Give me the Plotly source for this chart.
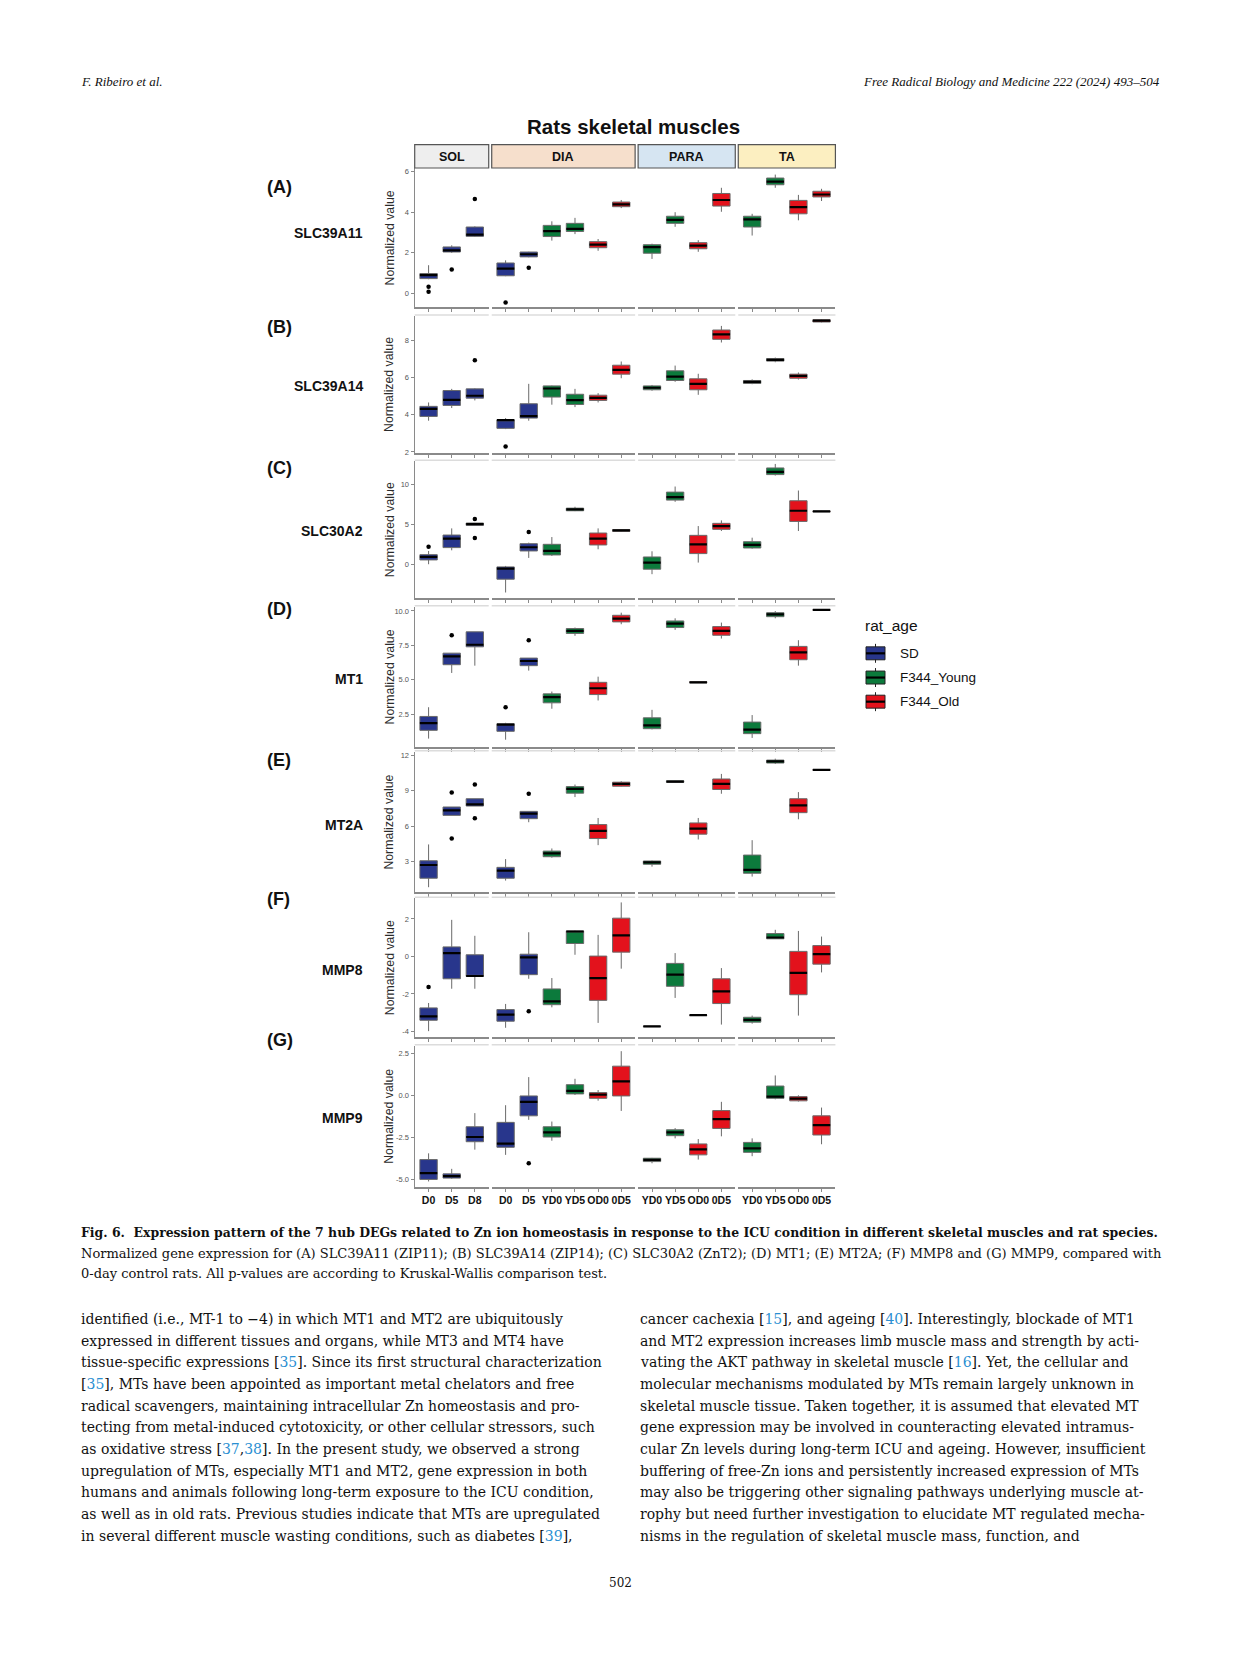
import plotly.graph_objects as go

# ---------------- data ----------------
MUSCLES = ["SOL", "DIA", "PARA", "TA"]
SOL_CATS = ["D0", "D5", "D8"]
DIA_CATS = ["D0", "D5", "YD0", "YD5", "OD0", "0D5"]
PARA_CATS = ["YD0", "YD5", "OD0", "0D5"]
TA_CATS = ["YD0", "YD5", "OD0", "0D5"]
SOL_GROUPS = ["SD", "SD", "SD"]
DIA_GROUPS = ["SD", "SD", "F344_Young", "F344_Young", "F344_Old", "F344_Old"]
PARA_GROUPS = ["F344_Young", "F344_Young", "F344_Old", "F344_Old"]
TA_GROUPS = ["F344_Young", "F344_Young", "F344_Old", "F344_Old"]
GROUP_NAMES = ["SD", "F344_Young", "F344_Old"]
GENES = ["SLC39A11", "SLC39A14", "SLC30A2", "MT1", "MT2A", "MMP8", "MMP9"]
LETTERS = ["(A)", "(B)", "(C)", "(D)", "(E)", "(F)", "(G)"]

# 17 boxes per gene: SOL D0 D5 D8 | DIA D0 D5 YD0 YD5 OD0 0D5 | PARA YD0 YD5 OD0 0D5 | TA YD0 YD5 OD0 0D5
A_LO = [0.7, 2.0, 2.78, 0.85, 1.78, 2.6, 2.92, 2.1, 4.2, 1.7, 3.28, 2.05, 4.02, 2.85, 5.2, 3.6, 4.55]
A_Q1 = [0.73, 2.04, 2.81, 0.87, 1.8, 2.8, 3.05, 2.25, 4.27, 1.98, 3.45, 2.2, 4.3, 3.27, 5.35, 3.92, 4.75]
A_MED = [0.9, 2.12, 2.9, 1.22, 1.93, 3.07, 3.18, 2.4, 4.38, 2.28, 3.62, 2.35, 4.6, 3.65, 5.5, 4.25, 4.87]
A_Q3 = [0.98, 2.29, 3.27, 1.5, 2.04, 3.35, 3.45, 2.55, 4.5, 2.4, 3.8, 2.5, 4.92, 3.8, 5.68, 4.58, 5.03]
A_HI = [1.39, 2.37, 3.3, 1.63, 2.05, 3.55, 3.72, 2.68, 4.6, 2.45, 4.0, 2.62, 5.2, 3.92, 5.85, 4.85, 5.15]
A_OUT_POS = [0, 0, 1, 2, 3, 4]
A_OUT_VAL = [0.33, 0.08, 1.18, 4.65, -0.44, 1.27]

B_LO = [3.68, 4.36, 4.77, 3.23, 3.68, 4.54, 4.41, 4.66, 5.96, 5.29, 5.77, 5.07, 7.88, 5.64, 6.82, 5.89, 8.96]
B_Q1 = [3.91, 4.5, 4.89, 3.27, 3.82, 4.95, 4.55, 4.77, 6.18, 5.34, 5.84, 5.34, 8.05, 5.68, 6.88, 5.96, 8.98]
B_MED = [4.32, 4.8, 5.02, 3.71, 3.93, 5.41, 4.79, 4.91, 6.41, 5.45, 6.05, 5.66, 8.32, 5.77, 6.95, 6.09, 9.05]
B_Q3 = [4.45, 5.3, 5.39, 3.73, 4.59, 5.55, 5.1, 5.05, 6.66, 5.55, 6.36, 5.93, 8.55, 5.84, 7.02, 6.18, 9.1]
B_HI = [4.66, 5.39, 5.42, 3.82, 5.66, 5.57, 5.39, 5.16, 6.86, 5.6, 6.64, 6.2, 8.77, 5.9, 7.07, 6.27, 9.12]
B_OUT_POS = [2, 3]
B_OUT_VAL = [6.93, 2.3]

C_LO = [0.04, 1.78, 4.9, -3.49, 0.83, 1.08, 6.68, 1.91, 4.1, -1.2, 7.84, 0.25, 4.19, 1.99, 11.12, 4.19, 6.58]
C_Q1 = [0.58, 2.12, 4.9, -1.83, 1.7, 1.2, 6.72, 2.45, 4.15, -0.58, 8.05, 1.37, 4.4, 2.07, 11.24, 5.39, 6.6]
C_MED = [0.95, 3.24, 5.06, -0.5, 2.16, 1.7, 6.89, 3.24, 4.27, 0.25, 8.42, 2.53, 4.81, 2.45, 11.58, 6.72, 6.64]
C_Q3 = [1.24, 3.69, 5.19, -0.29, 2.61, 2.53, 7.05, 3.94, 4.36, 0.95, 9.05, 3.65, 5.15, 2.86, 12.07, 7.97, 6.68]
C_HI = [1.7, 4.52, 5.19, -0.17, 2.74, 3.44, 7.22, 4.52, 4.4, 1.66, 9.75, 4.81, 5.52, 3.36, 12.57, 9.25, 6.7]
C_OUT_POS = [0, 2, 2, 4]
C_OUT_VAL = [2.24, 5.68, 3.32, 4.07]

D_LO = [0.72, 5.49, 6.02, 0.64, 5.66, 2.89, 8.19, 3.49, 9.03, 1.39, 8.62, 4.77, 7.99, 0.77, 9.46, 6.02, 10.05]
D_Q1 = [1.32, 6.09, 7.39, 1.25, 6.02, 3.32, 8.36, 3.92, 9.2, 1.44, 8.79, 4.78, 8.23, 1.08, 9.58, 6.45, 10.05]
D_MED = [1.85, 6.69, 7.54, 1.73, 6.36, 3.73, 8.55, 4.38, 9.44, 1.68, 9.08, 4.81, 8.55, 1.37, 9.75, 6.98, 10.07]
D_Q3 = [2.33, 6.93, 8.48, 1.8, 6.57, 3.97, 8.72, 4.81, 9.68, 2.23, 9.27, 4.85, 8.86, 1.92, 9.87, 7.42, 10.09]
D_HI = [3.0, 6.93, 8.48, 1.87, 6.57, 4.14, 8.79, 5.22, 9.87, 2.81, 9.46, 4.87, 9.15, 2.43, 9.99, 7.87, 10.1]
D_OUT_POS = [1, 3, 4]
D_OUT_VAL = [8.23, 3.0, 7.87]

E_LO = [0.84, 6.92, 7.71, 1.4, 6.34, 3.34, 8.47, 4.4, 9.36, 2.58, 9.7, 4.88, 8.75, 1.74, 11.27, 6.59, 10.73]
E_Q1 = [1.6, 6.92, 7.71, 1.6, 6.64, 3.42, 8.8, 4.96, 9.39, 2.78, 9.72, 5.33, 9.11, 2.02, 11.35, 7.15, 10.74]
E_MED = [2.72, 7.35, 7.85, 2.24, 7.07, 3.7, 9.17, 5.61, 9.59, 2.94, 9.78, 5.8, 9.59, 2.3, 11.49, 7.77, 10.77]
E_Q3 = [3.08, 7.63, 8.33, 2.52, 7.26, 3.9, 9.36, 6.14, 9.73, 3.06, 9.85, 6.28, 10.0, 3.56, 11.6, 8.33, 10.8]
E_HI = [4.46, 7.63, 8.33, 3.22, 7.26, 4.12, 9.53, 6.7, 9.81, 3.1, 9.87, 6.7, 10.43, 4.82, 11.72, 8.89, 10.82]
E_OUT_POS = [1, 1, 2, 2, 4]
E_OUT_VAL = [8.86, 4.96, 9.53, 6.67, 8.75]

F_LO = [-3.98, -1.72, -1.72, -3.8, -1.19, -2.71, 0.09, -3.54, -0.65, -3.75, -2.21, -3.15, -3.63, -3.58, 0.94, -3.15, -0.85]
F_Q1 = [-3.4, -1.19, -1.06, -3.45, -0.97, -2.57, 0.69, -2.34, 0.23, -3.74, -1.59, -3.14, -2.51, -3.5, 0.94, -2.04, -0.41]
F_MED = [-3.19, 0.18, -1.04, -3.1, -0.05, -2.39, 1.33, -1.15, 1.12, -3.73, -0.97, -3.13, -1.86, -3.38, 1.01, -0.88, 0.12]
F_Q3 = [-2.74, 0.51, 0.09, -2.83, 0.12, -1.73, 1.36, 0.02, 2.04, -3.72, -0.37, -3.12, -1.19, -3.24, 1.22, 0.27, 0.58]
F_HI = [-2.48, 1.95, 1.1, -2.53, 1.29, -1.15, 1.38, 1.15, 2.88, -3.71, 0.18, -3.11, -0.62, -3.15, 1.42, 1.36, 1.06]
F_OUT_POS = [0, 4]
F_OUT_VAL = [-1.63, -2.92]

G_LO = [-5.1, -4.94, -3.21, -3.52, -1.44, -2.68, 0.04, -0.3, -0.91, -4.02, -2.54, -3.8, -2.42, -3.6, -0.22, -0.35, -2.89]
G_Q1 = [-4.98, -4.9, -2.74, -3.07, -1.2, -2.46, 0.1, -0.16, -0.02, -3.92, -2.38, -3.52, -1.95, -3.37, -0.16, -0.31, -2.34]
G_MED = [-4.61, -4.78, -2.46, -2.85, -0.37, -2.19, 0.28, 0.06, 0.85, -3.82, -2.19, -3.19, -1.4, -3.13, -0.06, -0.18, -1.75]
G_Q3 = [-3.8, -4.65, -1.85, -1.59, -0.02, -1.85, 0.65, 0.18, 1.75, -3.72, -2.03, -2.87, -0.89, -2.78, 0.57, -0.06, -1.2]
G_HI = [-3.43, -4.35, -1.04, -0.57, 1.1, -1.54, 1.0, 0.33, 2.64, -3.7, -1.93, -2.58, -0.37, -2.54, 1.2, 0.02, -0.71]
G_OUT_POS = [4]
G_OUT_VAL = [-4.02]

Y_TICKS_A = [0, 2, 4, 6]
Y_TICKS_B = [2, 4, 6, 8]
Y_TICKS_C = [0, 5, 10]
Y_TICKS_D = [2.5, 5.0, 7.5, 10.0]
Y_TICKS_E = [3, 6, 9, 12]
Y_TICKS_F = [-4, -2, 0, 2]
Y_TICKS_G = [-5.0, -2.5, 0.0, 2.5]

# ---------------- styling / layout constants ----------------
W, H = 1241, 1654
GROUP_COLORS = {"SD": "#28368C", "F344_Young": "#0C7A3C", "F344_Old": "#E3121C"}
STRIP_COLORS = ["#EEEEEE", "#F6DFCC", "#D6E5F2", "#FCEFC1"]
AXIS_COLOR = "#8a8a8a"
BOX_LINE = "#6a6a6a"
SANS = "Liberation Sans, Arial, sans-serif"
SERIF = "DejaVu Serif, serif"
CITE = "#2a8fd2"

FACET_LEFT = 414.7
UNIT = 23.13
FACET_GAP = 3.0
ROW_TOP = [168.0, 316.0, 461.7, 607.6, 753.1, 900.0, 1047.8]
ROW_BOT = [307.2, 453.3, 599.0, 748.4, 894.1, 1039.3, 1189.6]
Y_RANGES = [[-0.68, 6.15], [1.95, 9.3], [-4.2, 12.9], [0.1, 10.3], [0.4, 12.3], [-4.3, 3.1], [-5.43, 2.97]]
Y_FMT = ["{:g}", "{:g}", "{:g}", "{:.1f}", "{:g}", "{:g}", "{:.1f}"]
LETTER_Y = [186.8, 327.0, 468.5, 610.0, 761.0, 901.0, 1042.6]
GENE_Y = [233.0, 386.0, 532.0, 679.6, 826.0, 972.0, 1120.0]


def fx(x):
    return x / W


def fy(y):
    return 1 - y / H


def note(text, x, y, size, family=SANS, xanchor="left", color="#111", angle=0):
    return dict(text=text, x=fx(x), y=fy(y), xref="paper", yref="paper", xanchor=xanchor,
                yanchor="middle", showarrow=False, textangle=angle,
                font=dict(family=family, size=size, color=color))


FACET_CATS = [SOL_CATS, DIA_CATS, PARA_CATS, TA_CATS]
FACET_GROUPS = [SOL_GROUPS, DIA_GROUPS, PARA_GROUPS, TA_GROUPS]
GENE_DATA = [
    (A_LO, A_Q1, A_MED, A_Q3, A_HI, A_OUT_POS, A_OUT_VAL, Y_TICKS_A),
    (B_LO, B_Q1, B_MED, B_Q3, B_HI, B_OUT_POS, B_OUT_VAL, Y_TICKS_B),
    (C_LO, C_Q1, C_MED, C_Q3, C_HI, C_OUT_POS, C_OUT_VAL, Y_TICKS_C),
    (D_LO, D_Q1, D_MED, D_Q3, D_HI, D_OUT_POS, D_OUT_VAL, Y_TICKS_D),
    (E_LO, E_Q1, E_MED, E_Q3, E_HI, E_OUT_POS, E_OUT_VAL, Y_TICKS_E),
    (F_LO, F_Q1, F_MED, F_Q3, F_HI, F_OUT_POS, F_OUT_VAL, Y_TICKS_F),
    (G_LO, G_Q1, G_MED, G_Q3, G_HI, G_OUT_POS, G_OUT_VAL, Y_TICKS_G),
]

# facet horizontal extents
facet_dom = []
start = FACET_LEFT
for cats in FACET_CATS:
    w = (len(cats) + 0.2) * UNIT
    facet_dom.append((start, start + w))
    start += w + FACET_GAP

fig = go.Figure()
layout = {}
shapes = []
annotations = []

for r, (lo, q1, med, q3, hi, opos, oval, yt) in enumerate(GENE_DATA):
    offset = 0
    for c, cats in enumerate(FACET_CATS):
        n = len(cats)
        k = r * 4 + c + 1
        xa = "x" if k == 1 else f"x{k}"
        ya = "y" if k == 1 else f"y{k}"
        x0, x1 = facet_dom[c]
        layout["xaxis" if k == 1 else f"xaxis{k}"] = dict(
            domain=[fx(x0), fx(x1)], anchor=ya, range=[-0.6, n - 0.4],
            tickvals=list(range(n)), ticktext=[f"<b>{t}</b>" for t in cats], tickangle=0,
            showticklabels=(r == 6), tickfont=dict(family=SANS, size=10.5, color="#111"),
            showline=True, linecolor=AXIS_COLOR, linewidth=1.6,
            ticks="outside", ticklen=3, tickcolor=AXIS_COLOR, tickwidth=1,
            showgrid=False, zeroline=False, fixedrange=True,
        )
        layout["yaxis" if k == 1 else f"yaxis{k}"] = dict(
            domain=[fy(ROW_BOT[r]), fy(ROW_TOP[r])], anchor=xa, range=Y_RANGES[r],
            tickvals=yt, ticktext=[Y_FMT[r].format(v) for v in yt],
            showticklabels=(c == 0), showline=(c == 0), linecolor=AXIS_COLOR, linewidth=1.4,
            ticks="outside" if c == 0 else "", ticklen=3, tickcolor=AXIS_COLOR,
            tickfont=dict(family=SANS, size=7.5, color="#555"),
            showgrid=False, zeroline=False, fixedrange=True,
        )
        groups = FACET_GROUPS[c]
        for g in GROUP_NAMES:
            idx = [i for i in range(n) if groups[i] == g]
            if not idx:
                continue
            gi = [offset + i for i in idx]
            fig.add_trace(go.Box(
                x=idx, q1=[q1[j] for j in gi], median=[med[j] for j in gi],
                q3=[q3[j] for j in gi], lowerfence=[lo[j] for j in gi],
                upperfence=[hi[j] for j in gi], orientation="v",
                fillcolor=GROUP_COLORS[g], line=dict(color=BOX_LINE, width=1),
                whiskerwidth=0, width=0.75, boxpoints=False, showlegend=False,
                hoverinfo="skip", xaxis=xa, yaxis=ya,
            ))
        # median lines (black, thick)
        mx, my = [], []
        for i in range(n):
            mx += [i - 0.375, i + 0.375, None]
            my += [med[offset + i], med[offset + i], None]
        fig.add_trace(go.Scatter(x=mx, y=my, mode="lines", line=dict(color="black", width=2.2),
                                 showlegend=False, hoverinfo="skip", xaxis=xa, yaxis=ya))
        # outliers
        ox = [p - offset for p in opos if offset <= p < offset + n]
        ov = [v for p, v in zip(opos, oval) if offset <= p < offset + n]
        if ox:
            fig.add_trace(go.Scatter(x=ox, y=ov, mode="markers", marker=dict(color="black", size=4.5),
                                     showlegend=False, hoverinfo="skip", xaxis=xa, yaxis=ya))
        # faint strip line at top of lower rows
        if r > 0:
            shapes.append(dict(type="line", xref="paper", yref="paper",
                               x0=fx(x0), x1=fx(x1), y0=fy(ROW_TOP[r] - 1), y1=fy(ROW_TOP[r] - 1),
                               line=dict(color="#dcdcdc", width=1.5)))
        offset += n

    # row labels
    annotations.append(note(f"<b>{LETTERS[r]}</b>", 265, LETTER_Y[r], 18))
    annotations.append(note(f"<b>{GENES[r]}</b>", 365, GENE_Y[r], 14, xanchor="right"))
    annotations.append(note("Normalized value", 389.5, (ROW_TOP[r] + ROW_BOT[r]) / 2, 12.3,
                            xanchor="center", color="#2b2b2b", angle=-90))

# strips
for c, m in enumerate(MUSCLES):
    x0, x1 = facet_dom[c]
    shapes.append(dict(type="rect", xref="paper", yref="paper", x0=fx(x0), x1=fx(x1),
                       y0=fy(167.5), y1=fy(144), fillcolor=STRIP_COLORS[c],
                       line=dict(color="#555", width=1.2)))
    annotations.append(note(f"<b>{m}</b>", (x0 + x1) / 2, 156, 12.5, xanchor="center"))

# title
annotations.append(note("<b>Rats skeletal muscles</b>", 633, 126, 20.5, xanchor="center"))

# legend (drawn manually)
annotations.append(note("rat_age", 863, 626, 15.5))
LEG_Y = [654.3, 678.6, 702.8]
for gname, cy in zip(GROUP_NAMES, LEG_Y):
    shapes.append(dict(type="line", xref="paper", yref="paper", x0=fx(875.5), x1=fx(875.5),
                       y0=fy(cy - 9.5), y1=fy(cy + 9.5), line=dict(color="#222", width=1)))
    shapes.append(dict(type="rect", xref="paper", yref="paper", x0=fx(866), x1=fx(885),
                       y0=fy(cy + 6.5), y1=fy(cy - 6.5), fillcolor=GROUP_COLORS[gname],
                       line=dict(color="#222", width=1)))
    shapes.append(dict(type="line", xref="paper", yref="paper", x0=fx(866), x1=fx(885),
                       y0=fy(cy), y1=fy(cy), line=dict(color="black", width=2.2)))
    annotations.append(note(gname, 898, cy, 13.5))

# page header
HEAD_FONT = "Liberation Serif, serif"
annotations.append(note("<i>F. Ribeiro et al.</i>", 79, 81, 13, family=HEAD_FONT))
annotations.append(note("<i>Free Radical Biology and Medicine 222 (2024) 493–504</i>", 1162, 81, 13,
                        family=HEAD_FONT, xanchor="right"))

# caption
CAPTION = [
    ("<b>Fig. 6.&nbsp; Expression pattern of the 7 hub DEGs related to Zn ion homeostasis in response to the ICU condition in different skeletal muscles and rat species.</b>", 1235.5, 12.45),
    ("Normalized gene expression for (A) SLC39A11 (ZIP11); (B) SLC39A14 (ZIP14); (C) SLC30A2 (ZnT2); (D) MT1; (E) MT2A; (F) MMP8 and (G) MMP9, compared with", 1256.5, 13.0),
    ("0-day control rats. All p-values are according to Kruskal-Wallis comparison test.", 1276.5, 13.0),
]
for txt, yy, sz in CAPTION:
    annotations.append(note(txt, 79, yy, sz, family=SERIF))


def cite(s):
    return f'<span style="color:{CITE}">{s}</span>'


LEFT_COL = [
    "identified (i.e., MT-1 to −4) in which MT1 and MT2 are ubiquitously",
    "expressed in different tissues and organs, while MT3 and MT4 have",
    f"tissue-specific expressions [{cite('35')}]. Since its first structural characterization",
    f"[{cite('35')}], MTs have been appointed as important metal chelators and free",
    "radical scavengers, maintaining intracellular Zn homeostasis and pro-",
    "tecting from metal-induced cytotoxicity, or other cellular stressors, such",
    f"as oxidative stress [{cite('37')},{cite('38')}]. In the present study, we observed a strong",
    "upregulation of MTs, especially MT1 and MT2, gene expression in both",
    "humans and animals following long-term exposure to the ICU condition,",
    "as well as in old rats. Previous studies indicate that MTs are upregulated",
    f"in several different muscle wasting conditions, such as diabetes [{cite('39')}],",
]
RIGHT_COL = [
    f"cancer cachexia [{cite('15')}], and ageing [{cite('40')}]. Interestingly, blockade of MT1",
    "and MT2 expression increases limb muscle mass and strength by acti-",
    f"vating the AKT pathway in skeletal muscle [{cite('16')}]. Yet, the cellular and",
    "molecular mechanisms modulated by MTs remain largely unknown in",
    "skeletal muscle tissue. Taken together, it is assumed that elevated MT",
    "gene expression may be involved in counteracting elevated intramus-",
    "cular Zn levels during long-term ICU and ageing. However, insufficient",
    "buffering of free-Zn ions and persistently increased expression of MTs",
    "may also be triggering other signaling pathways underlying muscle at-",
    "rophy but need further investigation to elucidate MT regulated mecha-",
    "nisms in the regulation of skeletal muscle mass, function, and",
]
for i, line in enumerate(LEFT_COL):
    annotations.append(note(line, 79, 1322 + i * 21.75, 14, family=SERIF))
for i, line in enumerate(RIGHT_COL):
    annotations.append(note(line, 638.5, 1322 + i * 21.75, 14, family=SERIF))

annotations.append(note("502", 620.5, 1587, 12, family=SERIF, xanchor="center"))

fig.update_layout(
    width=W, height=H, autosize=False,
    margin=dict(l=0, r=0, t=0, b=0, pad=0),
    paper_bgcolor="white", plot_bgcolor="white",
    boxmode="overlay", showlegend=False,
    shapes=shapes, annotations=annotations,
    **layout,
)

fig.write_html("out.html", config={"displayModeBar": False},
               post_script="document.body.style.margin='0';")
